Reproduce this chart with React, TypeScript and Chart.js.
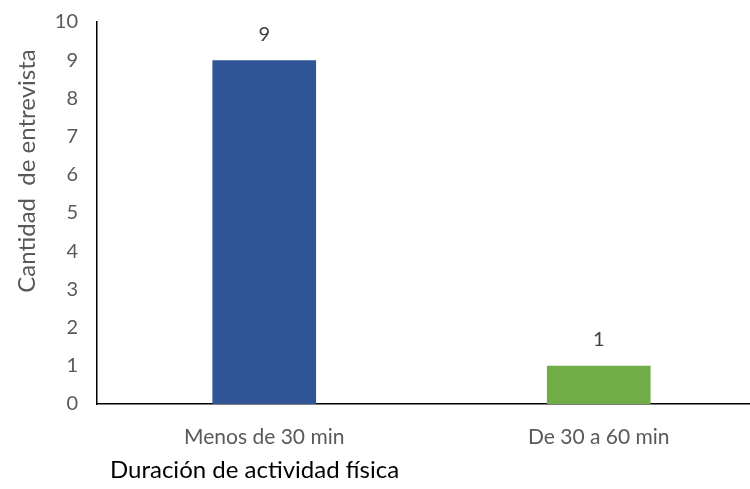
import React, { useEffect, useRef } from "react";
import { Chart, registerables } from "chart.js";

Chart.register(...registerables);

const categories = ["Menos de 30 min", "De 30 a 60 min"];
const values = [9, 1];
const barColors = ["#2F5597", "#70AD47"];
const yTicks = [0, 1, 2, 3, 4, 5, 6, 7, 8, 9, 10];
const yTitle = "Cantidad  de entrevista";
const xTitle = "Duración de actividad física";

const FONT = "Lato, 'Open Sans', sans-serif";

const labelPlugin = {
  id: "labelsAndTitles",
  afterDatasetsDraw(chart: any) {
    const ctx = chart.ctx;
    const meta = chart.getDatasetMeta(0);
    ctx.save();
    ctx.fillStyle = "#404040";
    ctx.font = `20px ${FONT}`;
    ctx.textAlign = "center";
    ctx.textBaseline = "bottom";
    meta.data.forEach((bar: any, i: number) => {
      ctx.fillText(String(values[i]), bar.x, bar.y - 16);
    });
    // y title
    ctx.fillStyle = "#595959";
    ctx.font = `24px ${FONT}`;
    ctx.translate(27, 171);
    ctx.rotate(-Math.PI / 2);
    ctx.textBaseline = "middle";
    ctx.textAlign = "center";
    ctx.fillText(yTitle, 0, 0);
    ctx.restore();
    ctx.save();
    ctx.fillStyle = "#000000";
    ctx.font = `24px ${FONT}`;
    ctx.textAlign = "left";
    ctx.textBaseline = "middle";
    ctx.fillText(xTitle, 110, 470);
    ctx.restore();
  },
};

export default function App() {
  const ref = useRef<HTMLCanvasElement>(null);
  useEffect(() => {
    document.body.style.margin = "0";
    const chart = new Chart(ref.current!, {
      type: "bar",
      data: {
        labels: categories,
        datasets: [
          {
            data: values,
            backgroundColor: barColors,
            barPercentage: 0.31,
            categoryPercentage: 1,
          },
        ],
      },
      options: {
        animation: false,
        responsive: false,
        layout: { padding: { top: 22, right: 4, left: 0, bottom: 0 } },
        plugins: { legend: { display: false }, tooltip: { enabled: false } },
        scales: {
          x: {
            grid: { display: false, drawTicks: false },
            border: { color: "#000000", width: 1.5 },
            ticks: { color: "#595959", font: { family: FONT, size: 21 }, padding: 21 },
            afterFit: (s: any) => {
              s.height = 85;
              s.paddingLeft = 0;
              s.paddingRight = 0;
            },
          },
          y: {
            min: 0,
            max: 10,
            afterBuildTicks: (s: any) => {
              s.ticks = yTicks.map((v) => ({ value: v }));
            },
            grid: { display: false, drawTicks: false },
            border: { color: "#000000", width: 1.5 },
            ticks: { color: "#595959", font: { family: FONT, size: 20 }, padding: 19 },
            afterFit: (s: any) => {
              s.width = 97;
              s.paddingTop = 0;
              s.paddingBottom = 0;
            },
          },
        },
      },
      plugins: [labelPlugin],
    });
    return () => chart.destroy();
  }, []);
  return (
    <div style={{ position: "fixed", left: 0, top: 0, width: 750, height: 489, overflow: "hidden", background: "#fff" }}>
      <canvas ref={ref} width={770} height={489} style={{ display: "block" }} />
    </div>
  );
}
